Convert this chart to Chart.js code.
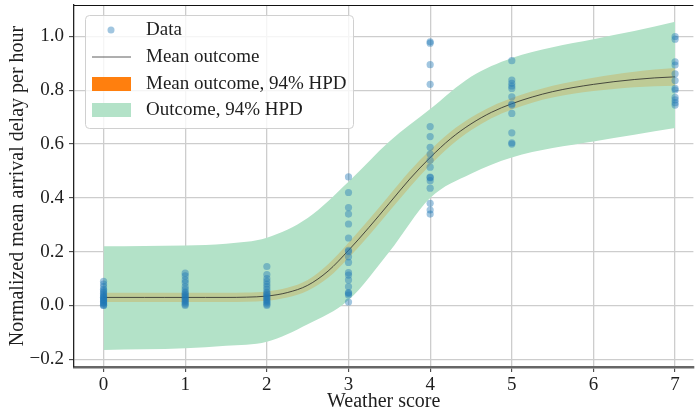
<!DOCTYPE html>
<html><head><meta charset="utf-8">
<script src="https://cdn.jsdelivr.net/npm/chart.js@4/dist/chart.umd.min.js"></script>
<style>html,body{margin:0;padding:0;background:#fff}</style>
</head><body>
<canvas id="c" width="697" height="417"></canvas>
<script>
// ---- data ----
const weatherTicks = [0,1,2,3,4,5,6,7];
const yTicks = [-0.2,0,0.2,0.4,0.6,0.8,1.0];
const obsScore0 = [0.09,0.08,0.07,0.06,0.055,0.05,0.045,0.04,0.035,0.03,0.03,0.025,0.02,0.02,0.015,0.01,0.01,0.005,0.0,0.0];
const obsScore1 = [0.12,0.11,0.095,0.085,0.07,0.06,0.05,0.045,0.04,0.035,0.03,0.025,0.02,0.015,0.01,0.005,0.0];
const obsScore2 = [0.145,0.115,0.1,0.09,0.08,0.07,0.06,0.05,0.045,0.04,0.035,0.03,0.025,0.02,0.015,0.01,0.005,0.0];
const obsScore3 = [0.478,0.42,0.364,0.34,0.303,0.251,0.205,0.2,0.181,0.16,0.122,0.113,0.095,0.07,0.048,0.045,0.039,0.013];
const obsScore4 = [0.98,0.975,0.895,0.822,0.665,0.628,0.588,0.563,0.54,0.514,0.477,0.475,0.464,0.436,0.38,0.355,0.34];
const obsScore5 = [0.91,0.838,0.826,0.816,0.807,0.776,0.749,0.745,0.714,0.642,0.605,0.6];
const obsScore7 = [1.0,0.99,0.906,0.894,0.861,0.836,0.807,0.801,0.774,0.764,0.754,0.745];

const curveX = [0,0.25,0.5,0.75,1,1.25,1.5,1.75,2,2.25,2.5,2.75,3,3.25,3.5,3.75,4,4.25,4.5,4.75,5,5.25,5.5,5.75,6,6.25,6.5,6.75,7];
const meanOutcome = [0.030,0.030,0.030,0.030,0.030,0.030,0.030,0.031,0.035,0.048,0.075,0.128,0.205,0.29,0.38,0.47,0.55,0.62,0.675,0.718,0.75,0.775,0.795,0.81,0.822,0.832,0.84,0.846,0.85];
const meanHpdLow  = [0.013,0.013,0.013,0.013,0.013,0.013,0.013,0.014,0.018,0.030,0.055,0.103,0.177,0.26,0.35,0.44,0.522,0.594,0.651,0.696,0.729,0.754,0.773,0.787,0.797,0.805,0.811,0.815,0.817];
const meanHpdHigh = [0.047,0.047,0.047,0.047,0.047,0.047,0.047,0.048,0.052,0.066,0.095,0.153,0.233,0.32,0.41,0.50,0.578,0.646,0.699,0.74,0.771,0.796,0.817,0.833,0.847,0.859,0.869,0.877,0.883];

const bandX = [0,0.5,1,1.5,2,2.5,3,3.5,4,4.5,5,5.5,6,6.5,7];
const outcomeHpdHigh = [0.220,0.221,0.223,0.230,0.252,0.325,0.46,0.61,0.73,0.85,0.92,0.96,0.99,1.02,1.055];
const outcomeHpdLow  = [-0.165,-0.163,-0.159,-0.150,-0.135,-0.07,0.02,0.2,0.40,0.49,0.55,0.585,0.61,0.635,0.66];

// ---- build ----
const obsByScore = [[0,obsScore0],[1,obsScore1],[2,obsScore2],[3,obsScore3],[4,obsScore4],[5,obsScore5],[7,obsScore7]];
const scatterPts = [];
obsByScore.forEach(([s,arr]) => arr.forEach(v => scatterPts.push({x:s,y:v})));
const pair = (xs, ys) => xs.map((x,i)=>({x:x,y:ys[i]}));

const FONT = "'Liberation Serif', 'Times New Roman', serif";
const TXT = '#1e1e1e';
const GREEN = 'rgb(179,226,200)';
const OLIVE = 'rgb(190,203,150)';
const ORANGE = '#ff7f0e';
const DOT = 'rgba(31,119,180,0.42)';

const legendItems = [
  {label:'Data', kind:'dot', color:'rgba(31,119,180,0.42)'},
  {label:'Mean outcome', kind:'line', color:'rgba(40,40,40,0.75)'},
  {label:'Mean outcome, 94% HPD', kind:'box', color:ORANGE},
  {label:'Outcome, 94% HPD', kind:'box', color:GREEN}
];

const framePlugin = {
  id:'frame',
  afterDraw(chart){
    const {ctx, chartArea:a} = chart;
    ctx.save();
    ctx.strokeStyle = '#111'; ctx.lineWidth = 1.2;
    ctx.beginPath(); ctx.moveTo(a.left, a.top+0.5); ctx.lineTo(a.right, a.top+0.5); ctx.stroke();
    // legend
    const x0=85, y0=15, w=268, h=113;
    ctx.fillStyle='rgba(255,255,255,0.8)';
    ctx.strokeStyle='#d0d0d0'; ctx.lineWidth=1;
    ctx.beginPath(); ctx.roundRect(x0+0.5,y0+0.5,w,h,4); ctx.fill(); ctx.stroke();
    ctx.font = '19px '+FONT; ctx.textBaseline='middle'; ctx.textAlign='left';
    const rows=[30,57,84,110];
    legendItems.forEach((it,i)=>{
      const y=rows[i];
      if(it.kind==='dot'){ ctx.fillStyle=it.color; ctx.beginPath(); ctx.arc(111,y,3.5,0,Math.PI*2); ctx.fill(); }
      else if(it.kind==='line'){ ctx.strokeStyle=it.color; ctx.lineWidth=1; ctx.beginPath(); ctx.moveTo(92,y); ctx.lineTo(131,y); ctx.stroke(); }
      else { ctx.fillStyle=it.color; ctx.fillRect(92,y-7,39,14); }
      ctx.fillStyle=TXT; ctx.fillText(it.label,146,y);
    });
    ctx.restore();
  }
};

const lineBase = {pointRadius:0, borderWidth:0, tension:0.4, cubicInterpolationMode:'monotone'};

new Chart(document.getElementById('c'), {
  type:'line',
  data:{datasets:[
    {type:'scatter', label:'Data', data:scatterPts, backgroundColor:DOT, borderWidth:0, pointRadius:3.6, pointHoverRadius:3.6, order:0},
    {label:'Mean outcome', data:pair(curveX,meanOutcome), borderColor:'rgba(40,40,40,0.8)', borderWidth:1, pointRadius:0, tension:0.4, cubicInterpolationMode:'monotone', fill:false, order:1},
    Object.assign({label:'meanLow', data:pair(curveX,meanHpdLow), fill:false, borderColor:'rgba(0,0,0,0)', order:2}, lineBase),
    Object.assign({label:'Mean outcome, 94% HPD', data:pair(curveX,meanHpdHigh), fill:2, backgroundColor:OLIVE, borderColor:'rgba(0,0,0,0)', order:2}, lineBase),
    Object.assign({label:'outLow', data:pair(bandX,outcomeHpdLow), fill:false, borderColor:'rgba(0,0,0,0)', order:3}, lineBase),
    Object.assign({label:'Outcome, 94% HPD', data:pair(bandX,outcomeHpdHigh), fill:4, backgroundColor:GREEN, borderColor:'rgba(0,0,0,0)', order:3}, lineBase)
  ]},
  options:{
    responsive:false, animation:false, devicePixelRatio:1,
    layout:{padding:{top:5,right:0,left:0,bottom:0}},
    plugins:{legend:{display:false}, tooltip:{enabled:false}},
    scales:{
      x:{type:'linear', min:-0.362, max:7.224,
        afterBuildTicks:s=>{s.ticks = weatherTicks.map(v=>({value:v}));},
        afterFit:s=>{s.height=50; s.paddingLeft=0; s.paddingRight=0;},
        ticks:{font:{family:FONT,size:19}, color:TXT, padding:2, callback:v=>String(v)},
        grid:{color:'#cdcdcd', lineWidth:1.3, tickLength:5, tickColor:'#333', tickWidth:1},
        border:{color:'#666', width:2.5},
        title:{display:true, text:'Weather score', font:{family:FONT,size:20}, color:TXT, padding:{top:0,bottom:3}}
      },
      y:{type:'linear', min:-0.2286, max:1.117,
        afterBuildTicks:s=>{s.ticks = yTicks.map(v=>({value:v}));},
        afterFit:s=>{s.width=74; s.paddingTop=0; s.paddingBottom=0;},
        ticks:{font:{family:FONT,size:19}, color:TXT, padding:5, callback:v=> v<0 ? '\u2212'+Math.abs(v).toFixed(1) : v.toFixed(1)},
        grid:{color:'#cdcdcd', lineWidth:1.3, tickLength:5, tickColor:'#333', tickWidth:1},
        border:{color:'#222', width:1.3},
        title:{display:true, text:'Normalized mean arrival delay per hour', font:{family:FONT,size:20}, color:TXT, padding:{top:6,bottom:0}}
      }
    }
  },
  plugins:[framePlugin]
});
</script>
</body></html>
